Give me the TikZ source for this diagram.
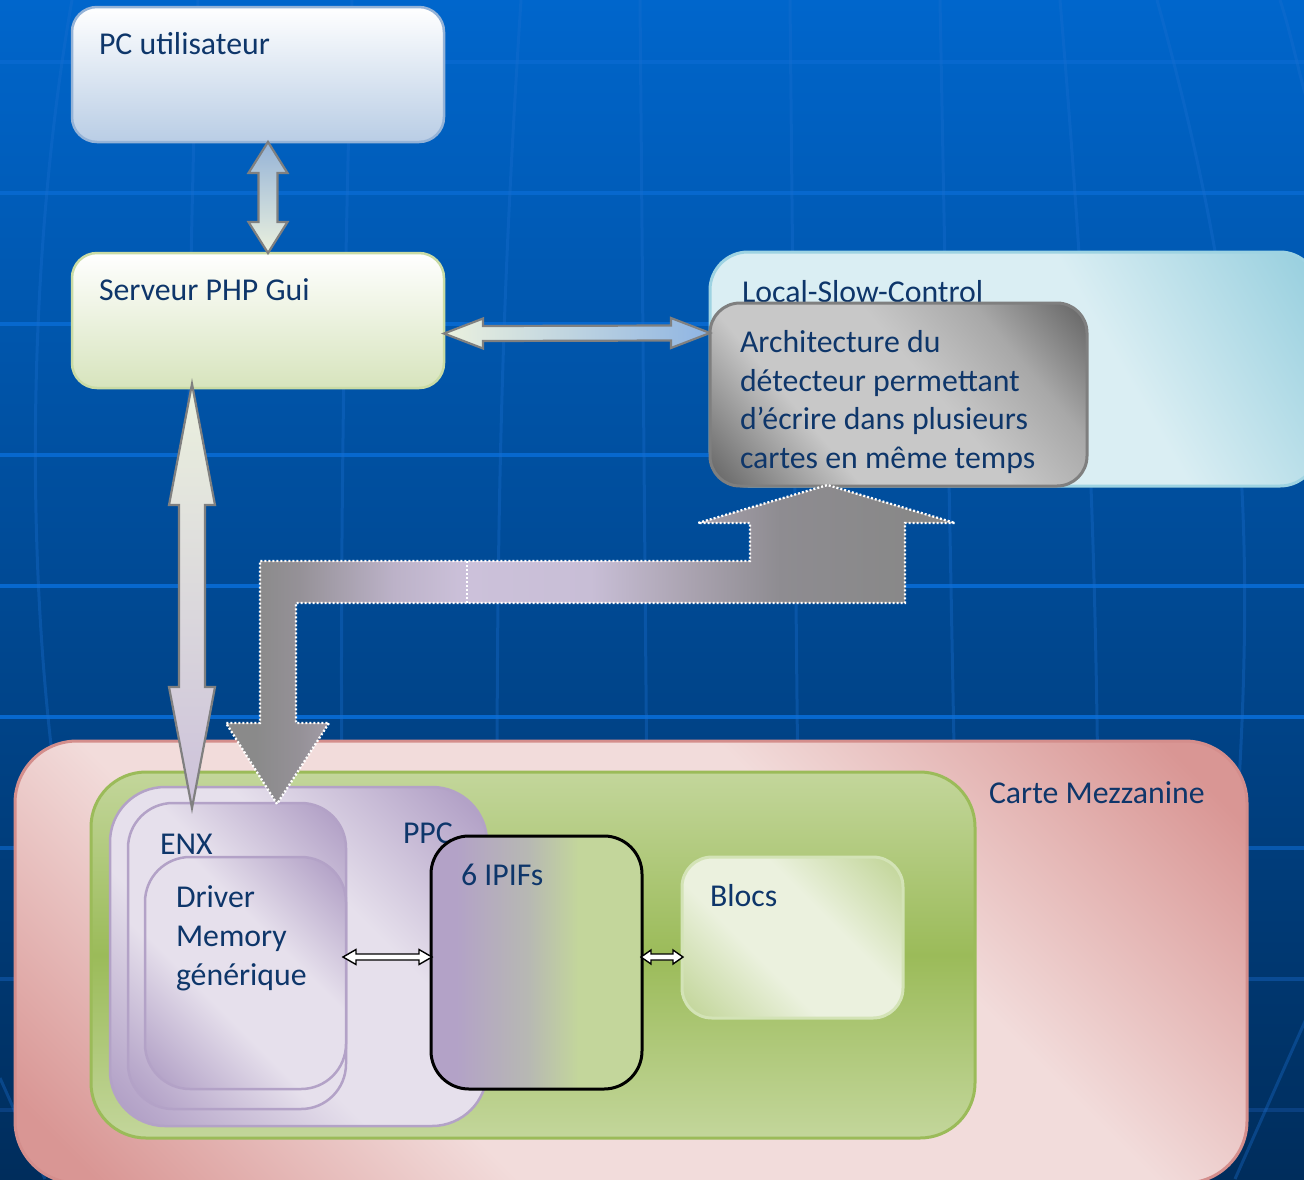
\documentclass[tikz,border=0pt]{standalone}
\usepackage{fontspec}
\setmainfont{Carlito}
\usetikzlibrary{calc}

% palette
\definecolor{bgTop}{HTML}{0066CC}
\definecolor{bgBot}{HTML}{002D5C}
\definecolor{gridA}{HTML}{0768CE}
\definecolor{gridB}{HTML}{0858AE}
\definecolor{gridC}{HTML}{0A4B94}
\definecolor{gridD}{HTML}{0A4080}
\definecolor{merid}{HTML}{1A6FD0}
\definecolor{ink}{HTML}{0E366A}
\definecolor{pcBot}{HTML}{B9CDE5}
\definecolor{pcLine}{HTML}{95B3D7}
\definecolor{srvBot}{HTML}{D7E4BD}
\definecolor{srvLine}{HTML}{C9DBA5}
\definecolor{lscL}{HTML}{DAEEF3}
\definecolor{lscD}{HTML}{93CDDD}
\definecolor{lscLine}{HTML}{9ED3E2}
\definecolor{greyD}{HTML}{686868}
\definecolor{greyL}{HTML}{C8C8C8}
\definecolor{greyM}{HTML}{A8A8A8}
\definecolor{greyLine}{HTML}{7F7F7F}
\definecolor{carteL}{HTML}{F2DCDB}
\definecolor{carteD}{HTML}{D99694}
\definecolor{carteLine}{HTML}{D48E8C}
\definecolor{grnL}{HTML}{C3D69B}
\definecolor{grnD}{HTML}{9BBB59}
\definecolor{lavL}{HTML}{E6E0EC}
\definecolor{lavD}{HTML}{B3A2C7}
\definecolor{lavLine}{HTML}{B3A2C7}
\definecolor{blocL}{HTML}{EBF1DE}
\definecolor{blocD}{HTML}{C3D69B}
\definecolor{blocLine}{HTML}{D3E3B6}
\definecolor{ipifMid}{HTML}{B7B8B3}
\definecolor{arrowLine}{HTML}{808080}
\definecolor{aBlue}{HTML}{8EB4E3}
\definecolor{aPale}{HTML}{EBF1DE}
\definecolor{aLav}{HTML}{CCC1DA}
\definecolor{lgA}{HTML}{8A8A8A}
\definecolor{lgB}{HTML}{959197}
\definecolor{lgC}{HTML}{BCB2C8}
\definecolor{lgD}{HTML}{CCC1DA}
\definecolor{lgE}{HTML}{C8BED6}
\definecolor{lgF}{HTML}{A9A2AF}
\definecolor{lgG}{HTML}{8E8C91}
\definecolor{lgH}{HTML}{888888}

% gradients
\pgfdeclarehorizontalshading{carteshade}{100bp}{color(0bp)=(carteD); color(18bp)=(carteD); color(36bp)=(carteL); color(63bp)=(carteL); color(82bp)=(carteD); color(100bp)=(carteD)}
\pgfdeclarehorizontalshading{lavshade}{100bp}{color(0bp)=(lavD); color(18bp)=(lavD); color(40bp)=(lavL); color(60bp)=(lavL); color(82bp)=(lavD); color(100bp)=(lavD)}
\pgfdeclarehorizontalshading{blocshade}{100bp}{color(0bp)=(blocD); color(17bp)=(blocD); color(40bp)=(blocL); color(60bp)=(blocL); color(83bp)=(blocD); color(100bp)=(blocD)}
\pgfdeclarehorizontalshading{greyshade}{100bp}{color(0bp)=(greyD); color(16bp)=(greyD); color(35bp)=(greyL); color(55bp)=(greyL); color(70bp)=(greyM); color(84bp)=(greyD); color(100bp)=(greyD)}
\pgfdeclarehorizontalshading{lscshade}{100bp}{color(0bp)=(lscL); color(60bp)=(lscL); color(85bp)=(lscD); color(100bp)=(lscD)}
\pgfdeclareverticalshading{grnshade}{100bp}{color(0bp)=(grnL); color(25bp)=(grnL); color(50bp)=(grnD); color(75bp)=(grnL); color(100bp)=(grnL)}
\pgfdeclarehorizontalshading{ipifshade}{100bp}{color(0bp)=(lavD); color(31bp)=(lavD); color(48bp)=(ipifMid); color(60bp)=(grnL); color(100bp)=(grnL)}
\pgfdeclarehorizontalshading{lshade}{100bp}{color(0bp)=(lgA); color(27bp)=(lgA); color(30bp)=(lgB); color(36.5bp)=(lgC); color(41.5bp)=(lgD); color(50bp)=(lgE); color(57bp)=(lgF); color(63bp)=(lgG); color(72bp)=(lgH); color(100bp)=(lgH)}

% block double arrows: style, first tip, second tip, shaft half-width, head half-width, head length
\newcommand{\vdblarrow}[6]{%
  \path[#1] (#2) -- ++(#5,#6) -- ++({#4-#5},0) -- ($(#3)+(#4,-#6)$) -- ++({#5-#4},0) -- (#3)
    -- ++(-#5,-#6) -- ++({#5-#4},0) -- ($(#2)+(-#4,#6)$) -- ++({#4-#5},0) -- cycle;}
\newcommand{\hdblarrow}[6]{%
  \path[#1] (#2) -- ++(#6,-#5) -- ++(0,{#5-#4}) -- ($(#3)+(-#6,-#4)$) -- ++(0,{#4-#5}) -- (#3)
    -- ++(-#6,#5) -- ++(0,{#4-#5}) -- ($(#2)+(#6,#4)$) -- ++(0,{#5-#4}) -- cycle;}

\tikzset{
  box/.style={rounded corners=#1, inner sep=0pt, outer sep=0pt, anchor=north west, line width=3pt},
  lbl/.style={anchor=base west, inner sep=0pt, outer sep=0pt, text=ink, font=\fontsize{31.8}{38.7}\selectfont},
  blockarrow/.style={draw=arrowLine, line width=2.2pt, line join=miter},
  thinarrow/.style={draw=black, fill=white, line width=1.4pt, line join=miter},
  dotted outline/.style={draw=white, line width=2.3pt, dash pattern=on 2pt off 2pt},
  meridian/.style={merid, line width=3pt, opacity=0.35},
}

\begin{document}
\begin{tikzpicture}[x=1pt,y=-1pt]
\useasboundingbox (0,0) rectangle (1304,1179);
\clip (0,0) rectangle (1304,1179);

% backdrop: blue gradient with a globe grid
\shade[top color=bgTop, bottom color=bgBot] (0,0) rectangle (1304,1179);
\foreach \y/\c in {62/gridA,193/gridA,324/gridA,455/gridA,586/gridA,717/gridA,848/gridB,979/gridC,1110/gridD}
  \draw[\c, line width=4pt] (0,\y) -- (1304,\y);
\draw[meridian] (72,0) .. controls (28,250) and (24,560) .. (58,800);
\draw[meridian] (198,0) .. controls (188,300) and (186,550) .. (190,800);
\draw[meridian] (352,0) .. controls (344,300) and (340,550) .. (342,800);
\draw[meridian] (521,0) .. controls (505,250) and (497,450) .. (497,800);
\draw[meridian] (640,0) -- (647,800);
\draw[meridian] (790,0) -- (798,800);
\draw[meridian] (940,0) -- (955,800);
\draw[meridian] (1060,0) .. controls (1085,300) and (1095,500) .. (1098,800);
\draw[meridian] (1157,0) .. controls (1240,300) and (1256,500) .. (1238,800);
\draw[meridian] (1280,0) .. controls (1293,40) and (1300,80) .. (1310,110);
\draw[meridian] (1310,1010) -- (1235,1179);
\draw[meridian] (0,1078) -- (45,1179);

% upper blocks
\node[box=25pt, draw=pcLine, line width=2.5pt, top color=white, bottom color=pcBot,
      minimum width=372pt, minimum height=135pt] (pc) at (72,7) {};
\node[lbl] (pcT) at (99,54) {PC utilisateur};

\node[box=25pt, draw=srvLine, line width=2.5pt, top color=white, bottom color=srvBot,
      minimum width=372pt, minimum height=135pt] (srv) at (72,253) {};
\node[lbl] (srvT) at (99,300) {Serveur PHP Gui};

\node[box=38pt, draw=lscLine, shade, shading=lscshade, shading angle=30,
      minimum width=608pt, minimum height=234pt] (lsc) at (710,252) {};
\node[lbl] (lscT) at (742,302) {Local-Slow-Control};

\node[box=30pt, draw=greyLine, shade, shading=greyshade, shading angle=40,
      minimum width=377pt, minimum height=183pt] (arch) at (710,303) {};
\node[lbl] (archA) at (740,352) {Architecture du};
\node[lbl] (archB) at (740,391) {détecteur permettant};
\node[lbl] (archC) at (740,429) {d’écrire dans plusieurs};
\node[lbl] (archD) at (740,468) {cartes en même temps};

% links between the upper blocks
\coordinate (a1t) at ([xshift=10pt]pc.south);
\coordinate (a1b) at ([xshift=10pt]srv.north);
\vdblarrow{blockarrow, top color=pcLine, bottom color=aPale}{a1t}{a1b}{9.5}{19.5}{31}
\coordinate (a2l) at ([yshift=-13pt]srv.east);
\coordinate (a2r) at ([yshift=36pt]lsc.west);
\hdblarrow{blockarrow, left color=aPale, right color=aBlue}{a2l}{a2r}{7.5}{15}{39}

% mezzanine board
\node[box=62pt, draw=carteLine, shade, shading=carteshade, shading angle=45,
      minimum width=1232pt, minimum height=442pt] (carte) at (15,741) {};
\node[lbl] (carteT) at (989,803) {Carte Mezzanine};

\node[box=55pt, draw=grnD, shade, shading=grnshade,
      minimum width=884pt, minimum height=366pt] (fpga) at (91,772) {};

\node[box=55pt, draw=lavLine, line width=2.5pt, shade, shading=lavshade, shading angle=45,
      minimum width=377pt, minimum height=339pt] (ppc) at (110,787) {};
\node[lbl] (ppcT) at (403,843) {PPC};

\node[box=45pt, draw=lavLine, line width=2.5pt, shade, shading=lavshade, shading angle=45,
      minimum width=218pt, minimum height=306pt] (enx) at (128,803) {};
\node[lbl] (enxT) at (160,854) {ENX};

\node[box=45pt, draw=lavLine, line width=2.5pt, shade, shading=lavshade, shading angle=45,
      minimum width=201pt, minimum height=232pt] (drv) at (145,857) {};
\node[lbl] (drvA) at (176,907) {Driver};
\node[lbl] (drvB) at (176,946) {Memory};
\node[lbl] (drvC) at (176,985) {générique};

\node[box=38pt, draw=black, shade, shading=ipifshade,
      minimum width=211pt, minimum height=253pt] (ipif) at (431,836) {};
\node[lbl] (ipifT) at (461,885) {6 IPIFs};

\node[box=30pt, draw=blocLine, shade, shading=blocshade, shading angle=45,
      minimum width=221pt, minimum height=161pt] (blocs) at (682,857) {};
\node[lbl] (blocsT) at (710,906) {Blocs};

% links inside the board
\coordinate (b1l) at ([xshift=-3pt,yshift=16pt]drv.east);
\coordinate (b1r) at ([xshift=1pt,yshift=5.5pt]ipif.west);
\hdblarrow{thinarrow}{b1l}{b1r}{3}{7.5}{13}
\coordinate (b2l) at ([xshift=-1pt,yshift=5.5pt]ipif.east);
\coordinate (b2r) at ([xshift=1pt,yshift=-19.5pt]blocs.west);
\hdblarrow{thinarrow}{b2l}{b2r}{3}{7}{10}

% server to ENX
\coordinate (a3t) at ([xshift=-66pt,yshift=4pt]srv.south);
\coordinate (a3b) at ([xshift=-45pt,yshift=-5pt]enx.north);
\vdblarrow{blockarrow, top color=aPale, bottom color=aLav}{a3t}{a3b}{13}{23}{121}

% bent arrow linking ENX and the detector architecture
\coordinate (dTip) at ([xshift=40pt,yshift=-1pt]enx.north);
\coordinate (uTip) at ([xshift=-71pt,yshift=1pt]arch.south);
\path[shade, shading=lshade, dotted outline, line join=miter]
  (dTip) -- (226,723) -- (260,723) -- (260,561) -- (750,561) -- (750,523) -- (698,523)
  -- (uTip) -- (955,523) -- (905,523) -- (905,603) -- (296,603) -- (296,723) -- (329,723) -- cycle;
\draw[dotted outline, line width=1.5pt] (467,561) -- (467,603);
\end{tikzpicture}
\end{document}
